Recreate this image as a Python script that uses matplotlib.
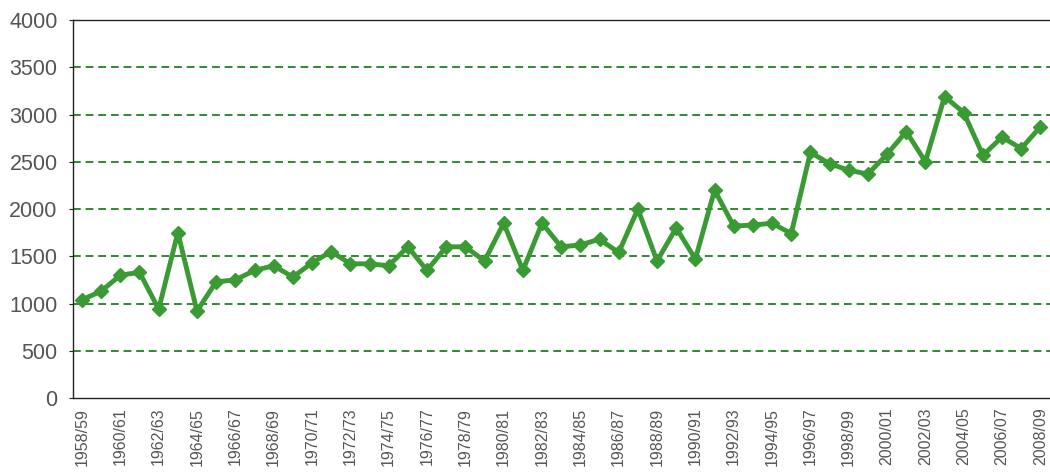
#!/usr/bin/env python3
# -*- coding: utf-8 -*-
import matplotlib
matplotlib.use("Agg")
import matplotlib.pyplot as plt

# seasons 1958/59 .. 2008/09
seasons = ["%d/%02d" % (y, (y + 1) % 100) for y in range(1958, 2009)]
values = [1040, 1130, 1300, 1330, 940, 1750, 920, 1230, 1250, 1350,
          1400, 1280, 1430, 1550, 1420, 1420, 1400, 1600, 1350, 1600,
          1600, 1450, 1850, 1350, 1850, 1600, 1620, 1680, 1540, 2000,
          1450, 1800, 1470, 2200, 1820, 1830, 1850, 1740, 2600, 2480,
          2410, 2370, 2580, 2820, 2500, 3190, 3020, 2570, 2760, 2640,
          2870]
y_ticks = [0, 500, 1000, 1500, 2000, 2500, 3000, 3500, 4000]

plt.rcParams['font.family'] = ['Liberation Sans', 'DejaVu Sans']

fig = plt.figure(figsize=(10.5, 4.74), dpi=100)
ax = fig.add_axes([0.0695, 0.1603, 0.9305, 0.7975])

x = list(range(len(seasons)))
ax.plot(x, values, color="#3a9a34", linewidth=3.5, marker="D",
        markersize=7, zorder=3)

# dashed gridlines
for t in y_ticks[1:-1]:
    ax.axhline(t, color="#2f8a2f", linestyle=(0, (4, 2.5)),
               linewidth=1.4, zorder=1)

ax.set_ylim(0, 4000)
ax.set_xlim(-0.47, 50.5)
ax.set_yticks(y_ticks)
ax.set_xticks(x[::2])
ax.set_xticklabels(seasons[::2], rotation=90)

ax.spines["right"].set_visible(False)
for s in ["left", "bottom", "top"]:
    ax.spines[s].set_color("#222222")
    ax.spines[s].set_linewidth(1.0)

ax.tick_params(axis="y", labelsize=15.5, labelcolor="#555555", length=3,
               color="#222222", pad=8)
ax.tick_params(axis="x", labelsize=11.5, labelcolor="#555555", length=0,
               pad=7)

plt.savefig("out.png", dpi=100)
